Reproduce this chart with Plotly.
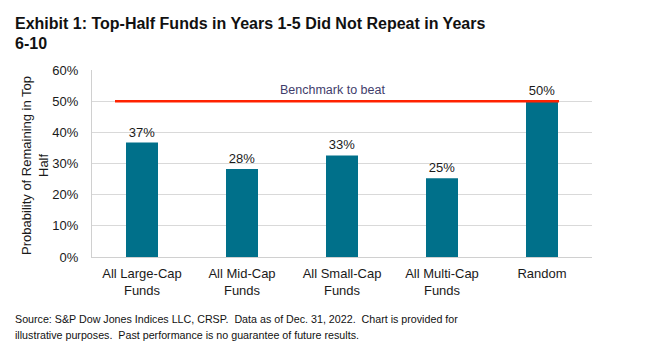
import plotly.graph_objects as go

categories = ["All Large-Cap<br>Funds", "All Mid-Cap<br>Funds", "All Small-Cap<br>Funds", "All Multi-Cap<br>Funds", "Random"]
values = [36.7, 28.2, 32.6, 25.3, 50.0]
labels = ["37%", "28%", "33%", "25%", "50%"]
benchmark = 50
yticks = [0, 10, 20, 30, 40, 50, 60]
ytick_text = ["0%", "10%", "20%", "30%", "40%", "50%", "60%"]
title_lines = ["Exhibit 1: Top-Half Funds in Years 1-5 Did Not Repeat in Years", "6-10"]
footer_lines = ["Source: S&P Dow Jones Indices LLC, CRSP.  Data as of Dec. 31, 2022.  Chart is provided for",
                "illustrative purposes.  Past performance is no guarantee of future results."]

FONT = "Liberation Sans, Arial, sans-serif"

fig = go.Figure()
fig.add_trace(go.Bar(
    x=list(range(len(categories))), y=values, text=labels, textposition="outside",
    textfont=dict(size=13, color="#1a1a1a", family=FONT),
    marker=dict(color="#00708A", line=dict(width=0)), width=0.32, cliponaxis=False,
))
fig.add_shape(type="line", xref="x", yref="y", x0=-0.27, x1=4.17, y0=benchmark, y1=benchmark,
              line=dict(color="#FF2200", width=2.5))
fig.add_annotation(x=1.9, y=benchmark, xref="x", yref="y", yshift=11, text="Benchmark to beat",
                   showarrow=False, font=dict(size=12.5, color="#3F3D6B", family=FONT))

fig.update_layout(
    width=657, height=351,
    margin=dict(l=92, r=65, t=70, b=94),
    paper_bgcolor="white", plot_bgcolor="white",
    showlegend=False,
    font=dict(family=FONT, color="#1a1a1a"),
    xaxis=dict(tickmode="array", tickvals=list(range(len(categories))), ticktext=categories,
               range=[-0.5, 4.5], showline=True, linecolor="#D0D0D0", linewidth=1,
               showgrid=False, ticks="", ticklabelstandoff=4, tickfont=dict(size=13, color="#1a1a1a")),
    yaxis=dict(range=[0, 60], tickmode="array", tickvals=yticks, ticktext=ytick_text,
               showgrid=True, gridcolor="#D9D9D9", gridwidth=1, showline=True,
               linecolor="#D0D0D0", linewidth=1, ticks="", zeroline=False,
               ticklabelstandoff=10,
               tickfont=dict(size=13, color="#1a1a1a")),
)
fig.add_annotation(xref="paper", yref="paper", x=-0.114, y=0.487, xanchor="center", yanchor="middle",
                   textangle=-90, showarrow=False, align="center",
                   text="Probability of Remaining in Top<br>Half",
                   font=dict(size=13, color="#1a1a1a", family=FONT))
for txt, yp in zip(title_lines, [1.246, 1.144]):
    fig.add_annotation(xref="paper", yref="paper", x=-0.158, y=yp, xanchor="left", yanchor="middle",
                       align="left", showarrow=False, text="<b>" + txt + "</b>",
                       font=dict(size=16, color="#111111", family=FONT))
for txt, yp in zip(footer_lines, [-0.3316, -0.417]):
    fig.add_annotation(xref="paper", yref="paper", x=-0.158, y=yp, xanchor="left", yanchor="middle",
                       align="left", showarrow=False, text=txt,
                       font=dict(size=10.7, color="#111111", family=FONT))
fig.write_html("out.html")
